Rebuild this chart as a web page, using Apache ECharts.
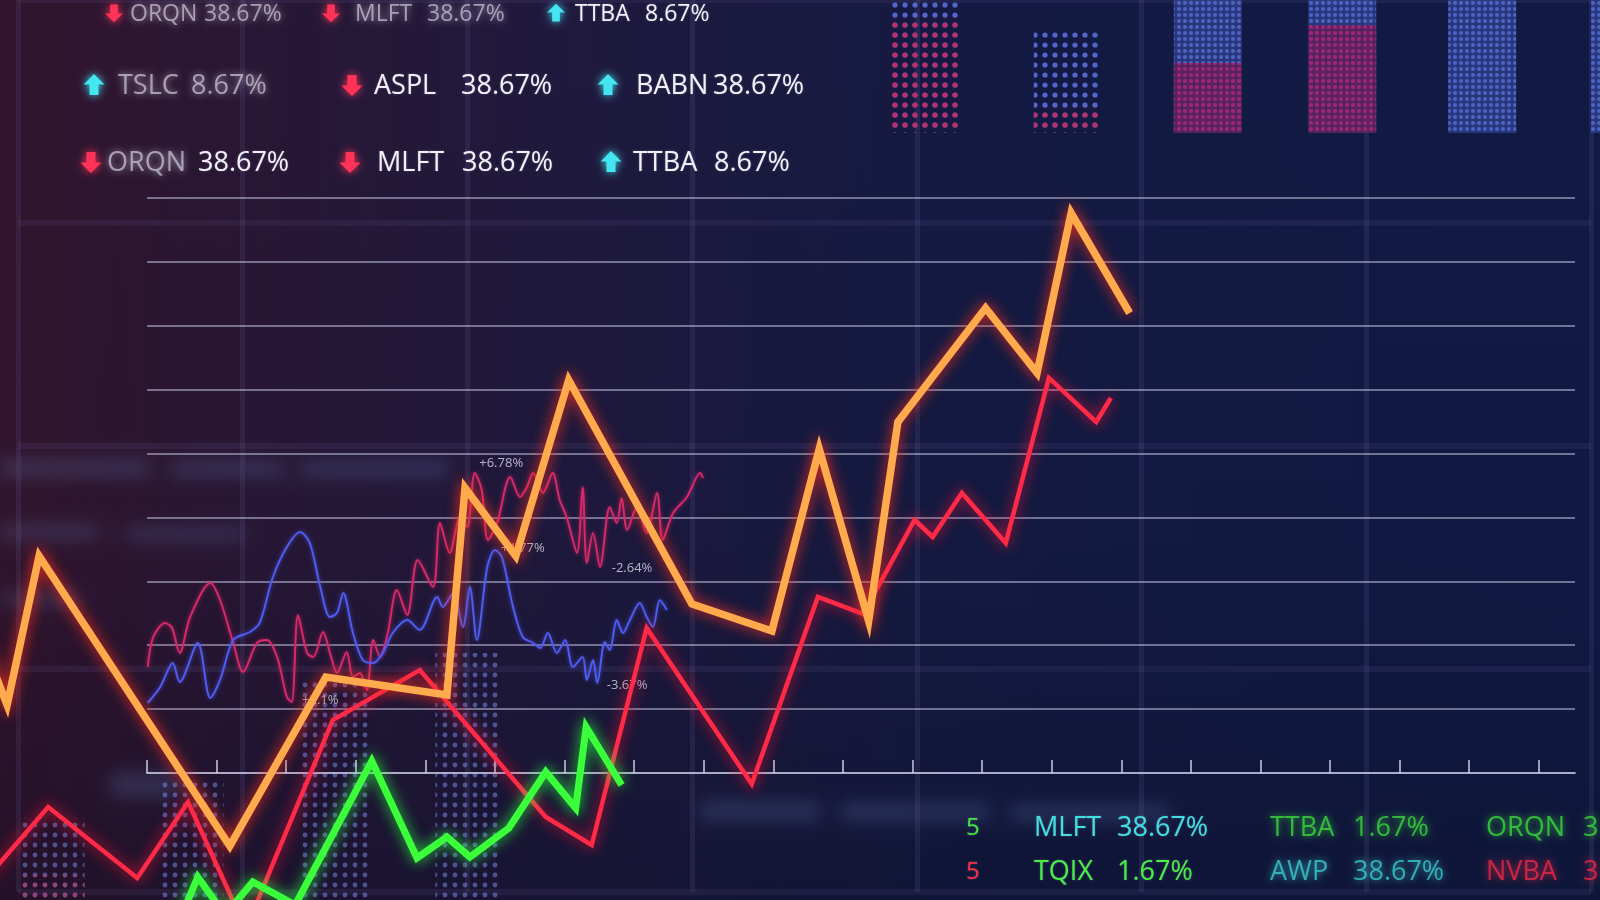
<!DOCTYPE html>
<html><head><meta charset="utf-8">
<script src="https://cdn.jsdelivr.net/npm/echarts@6/dist/echarts.min.js"></script>
<style>html,body{margin:0;padding:0;background:#151a3a;overflow:hidden}#c{width:1600px;height:900px;}</style>
</head><body><div id="c"></div>
<script>
// ---------- data ----------
const ticks = [0,1,2,3,4,5,6,7,8,9,10,11,12,13,14,15,16,17,18,19,20];

const orangeX = [-2.40,-2.01,-1.55,1.19,2.57,4.31,4.57,5.30,6.06,7.83,8.98,9.66,10.37,10.79,12.05,12.79,13.28,14.12];
const orangeY = [21.60,10.64,33.96,-11.43,15.03,12.21,44.61,33.96,61.51,26.45,22.23,50.71,23.79,54.94,72.78,62.61,87.65,72.00];

const redX = [-2.40,-1.42,-0.14,0.59,1.42,2.67,3.92,5.73,6.39,7.18,8.69,9.64,10.29,11.03,11.29,11.71,12.34,12.96,13.64,13.85];
const redY = [-17.69,-5.32,-16.43,-4.54,-24.42,8.30,16.12,-6.89,-11.27,22.70,-1.72,27.55,24.89,39.60,36.94,43.83,36.00,61.83,54.94,58.69];

const greenX = [0.50,0.73,1.12,1.52,2.13,3.23,3.88,4.31,4.64,5.20,5.73,6.16,6.31,6.82];
const greenY = [-22.23,-16.28,-22.23,-17.06,-20.66,1.88,-13.30,-10.02,-13.15,-8.61,0.16,-5.48,7.20,-1.88];

const pinkX = [0.01,0.09,0.26,0.36,0.47,0.62,0.91,1.05,1.24,1.38,1.58,1.72,1.87,2.01,2.08,2.17,2.30,2.39,2.53,2.63,2.73,2.87,2.96,3.06,3.16,3.25,3.35,3.46,3.59,3.74,3.89,4.11,4.21,4.35,4.50,4.60,4.71,4.81,4.90,5.03,5.22,5.36,5.46,5.55,5.69,5.83,5.93,6.03,6.18,6.26,6.32,6.41,6.51,6.65,6.75,6.82,6.90,7.04,7.18,7.33,7.41,7.56,7.76,7.95,7.99];
const pinkY = [16.59,21.29,23.48,22.70,18.78,24.42,29.74,27.08,20.35,15.81,20.35,20.82,18.16,11.90,11.11,24.73,18.78,18.16,22.07,18.78,15.65,18.94,15.03,15.65,12.99,20.82,18.16,21.91,28.64,24.73,33.34,29.11,39.13,34.43,40.07,38.50,46.96,44.30,36.47,39.13,46.33,43.20,44.76,46.96,43.83,46.96,42.73,40.07,34.43,44.76,32.87,37.56,32.24,41.63,39.13,43.04,38.03,41.63,37.56,43.83,36.47,40.70,43.20,46.96,46.17];

const blueX = [0.01,0.19,0.37,0.47,0.73,0.91,1.05,1.24,1.48,1.62,1.81,2.01,2.20,2.34,2.49,2.63,2.73,2.82,2.96,3.10,3.25,3.39,3.53,3.74,3.92,4.17,4.25,4.40,4.54,4.64,4.74,4.89,5.00,5.10,5.26,5.40,5.55,5.65,5.76,5.89,6.01,6.12,6.26,6.32,6.41,6.47,6.58,6.65,6.75,6.84,6.94,7.08,7.18,7.27,7.37,7.47];
const blueY = [10.96,13.46,17.22,14.24,20.35,11.74,14.56,20.82,22.07,23.48,30.68,35.37,37.72,36.00,29.11,24.42,25.04,28.17,21.91,17.69,17.22,18.78,21.91,23.95,22.38,27.55,25.98,28.17,22.85,29.11,20.82,32.24,34.90,33.81,25.98,21.29,20.35,19.57,21.91,18.78,20.82,16.59,18.16,14.56,17.69,14.09,20.50,19.25,23.95,21.91,23.95,26.61,24.42,22.85,27.08,25.51];

const tagLabels = ['+6.78%','+4.77%','-2.64%','-3.67%','+2.1%'];
const tagX = [5.09,5.40,6.97,6.90,2.49];
const tagY = [48.52,35.22,32.09,13.77,11.43];

const topBarPos = [0.5, 1.52, 2.52, 3.48, 4.48, 5.5];
const topBarRed = [87, 19.5, 52.6, 81, 0, 0];
const topBarBlue = [40, 59.4, 60, 40, 120, 120];

const lowBarPos = [0.37, 1.37, 2.41, 3.37];
const lowBarRed = [25, 0, 0, 0];
const lowBarBlue = [58, 122, 220, 247];

const tickerNames = [['ORQN','MLFT','TTBA'],['TSLC','ASPL','BABN'],['ORQN','MLFT','TTBA']];
const tickerValues = [['38.67%','38.67%','8.67%'],['8.67%','38.67%','38.67%'],['38.67%','38.67%','8.67%']];
const tickerDirs = [['down','down','up'],['up','down','up'],['down','down','up']];

const bottomNames = [['MLFT','TTBA','ORQN'],['TQIX','AWP','NVBA']];
const bottomValues = [['38.67%','1.67%','3'],['1.67%','38.67%','3']];

// ---------- helpers ----------
const zip = (xs, ys) => xs.map((x, i) => [x, ys[i]]);
function dots(step, r, color, bg) {
  const c = document.createElement('canvas');
  c.width = step; c.height = step;
  const g = c.getContext('2d');
  if (bg) { g.fillStyle = bg; g.fillRect(0, 0, step, step); }
  g.fillStyle = color;
  g.beginPath(); g.arc(step / 2, step / 2, r, 0, Math.PI * 2); g.fill();
  return c;
}
const pRedSharp = { image: dots(10, 2.6, '#c8285e'), repeat: 'repeat' };
const pBlueSharp = { image: dots(10, 2.6, '#6074e6'), repeat: 'repeat' };
const pRedSoft = { image: dots(6, 2.0, '#a8206a', 'rgba(110,24,80,0.75)'), repeat: 'repeat' };
const pBlueSoft = { image: dots(6, 2.0, '#5a70d8', 'rgba(55,75,165,0.7)'), repeat: 'repeat' };
const pLowBlue = { image: dots(10, 2.4, '#8092f4'), repeat: 'repeat' };
const pLowRed = { image: dots(10, 2.4, '#c03868'), repeat: 'repeat' };

const RED = '#ff3358', CYAN = '#44e6f2';
function arrow(cx, cy, dir, color, s) {
  const base = [[0,-11],[10.5,-0.5],[4.5,-0.5],[4.5,10],[-4.5,10],[-4.5,-0.5],[-10.5,-0.5]];
  const pts = base.map(p => [cx + p[0] * s, cy + (dir === 'up' ? p[1] : -p[1]) * s]);
  return { type: 'polygon', z: 100, silent: true, shape: { points: pts },
    style: { fill: color, shadowBlur: 8, shadowColor: color } };
}
function txt(x, y, text, color, size, blur) {
  return { type: 'text', x: x, y: y, z: 100, silent: true,
    style: { text: text, fill: color, font: size + 'px "Open Sans", sans-serif',
      textAlign: 'left', textVerticalAlign: 'middle',
      textShadowBlur: blur ? 7 : 2, textShadowColor: blur ? color : 'rgba(255,255,255,0.25)',
      opacity: blur ? 0.72 : 1 } };
}

// ---------- decorations ----------
const graphics = [];
graphics.push({ type: 'rect', z: -100, silent: true, shape: { x: 0, y: 0, width: 1600, height: 900 },
  style: { fill: new echarts.graphic.LinearGradient(0, 0, 1, 0, [
    { offset: 0, color: '#33142d' }, { offset: 0.12, color: '#2a1633' }, { offset: 0.35, color: '#1f193d' },
    { offset: 0.6, color: '#141a42' }, { offset: 1, color: '#101a44' }]) } });
graphics.push({ type: 'rect', z: -99, silent: true, shape: { x: 0, y: 0, width: 1600, height: 900 },
  style: { fill: new echarts.graphic.LinearGradient(0, 0, 0, 1, [
    { offset: 0, color: 'rgba(10,10,30,0)' }, { offset: 0.6, color: 'rgba(10,12,35,0.05)' },
    { offset: 1, color: 'rgba(8,12,34,0.35)' }]) } });
// out-of-focus text bands in the background: only the blurred shadow is visible
const OFF = 3000;
const blobs = [[0,458,150,20],[170,460,115,18],[300,460,150,18],[0,524,100,16],[125,527,120,14],
  [0,592,80,14],[110,772,70,26],[700,800,120,22],[840,802,150,20],[1010,804,160,18]];
blobs.forEach(b => graphics.push({ type: 'rect', z: -90, silent: true,
  shape: { x: b[0] - OFF, y: b[1], width: b[2], height: b[3], r: 6 },
  style: { fill: '#5a6a9a', shadowBlur: 16, shadowOffsetX: OFF, shadowColor: 'rgba(90,108,160,0.28)' } }));

const rowY = [13, 85, 162];
const rowSize = [23, 27, 27];
const arrowX = [[114,331,556],[94,352,608],[91,350,611]];
const nameX = [[130,355,575],[118,374,636],[107,377,633]];
const valX = [[204,427,645],[191,461,713],[198,462,714]];
const blurName = [[1,1,0],[1,0,0],[1,0,0]];
const blurVal = [[1,1,0],[1,0,0],[0,0,0]];
for (let r = 0; r < 3; r++) {
  for (let k = 0; k < 3; k++) {
    const dir = tickerDirs[r][k];
    graphics.push(arrow(arrowX[r][k], rowY[r], dir, dir === 'up' ? CYAN : RED, r === 0 ? 0.85 : 1));
    graphics.push(txt(nameX[r][k], rowY[r] + 1, tickerNames[r][k], blurName[r][k] ? '#cfc8dc' : '#f2f0fa', rowSize[r], blurName[r][k]));
    graphics.push(txt(valX[r][k], rowY[r] + 1, tickerValues[r][k], blurVal[r][k] ? '#cfc8dc' : '#f2f0fa', rowSize[r], blurVal[r][k]));
  }
}
const bRowY = [828, 872];
const bNameX = [1034, 1270, 1486];
const bValX = [1117, 1353, 1583];
const bColors = [['#3fe0e4', '#3ee83e', '#3ee83e'], ['#46f046', '#3fd8da', '#ff2a48']];
const bBlur = [[0, 1, 1], [0, 1, 1]];
for (let r = 0; r < 2; r++) {
  graphics.push(txt(966, bRowY[r], '5', r === 0 ? '#3ee83e' : '#ff2a48', 24, 0));
  for (let k = 0; k < 3; k++) {
    graphics.push(txt(bNameX[k], bRowY[r], bottomNames[r][k], bColors[r][k], 27, bBlur[r][k]));
    graphics.push(txt(bValX[k], bRowY[r], bottomValues[r][k], bColors[r][k], 27, bBlur[r][k]));
  }
}

// ---------- chart ----------
const chart = echarts.init(document.getElementById('c'), null, { renderer: 'canvas' });
const glowLine = (color, width, glow) => ({ color: color, width: width, join: 'miter', cap: 'butt',
  shadowBlur: 14, shadowColor: glow });
const hidden = { axisLine: { show: false }, axisTick: { show: false }, axisLabel: { show: false }, splitLine: { show: false } };
// data grid shares the visible axis scale (147px at 0, 69.6px per step) but starts at the canvas edge
const X_MIN_DATA = -147 / 69.6;
// stacked dot columns: the lower (red) part is drawn over a column of the full height
const topTotal = topBarRed.map((v, i) => v + topBarBlue[i]);
const lowTotal = lowBarRed.map((v, i) => v + lowBarBlue[i]);

chart.setOption({
  animation: false,
  graphic: graphics,
  grid: [
    { left: 147, right: 25, top: 198, bottom: 127 },
    { left: 18, right: 9, top: -7, bottom: 8 },
    { left: 855, top: 0, right: 0, height: 133 },
    { left: 0, top: 600, width: 556, height: 300 },
    { left: 0, right: 25, top: 198, bottom: 127 }
  ],
  xAxis: [
    { gridIndex: 0, type: 'value', min: 0, max: 20.52, z: 3,
      axisLine: { show: true, lineStyle: { color: 'rgba(210,210,236,0.6)', width: 2 } },
      axisTick: { show: true, inside: true, length: 13, customValues: ticks,
        lineStyle: { color: 'rgba(215,215,238,0.7)', width: 2 } },
      axisLabel: { show: false }, splitLine: { show: false } },
    { gridIndex: 1, type: 'value', min: 0, max: 7, interval: 1, z: 0,
      axisLine: { show: false }, axisTick: { show: false }, axisLabel: { show: false },
      splitLine: { show: true, lineStyle: { color: 'rgba(120,110,175,0.14)', width: 5 } } },
    Object.assign({ gridIndex: 2, type: 'value', min: 0, max: 745 / 140 }, hidden),
    Object.assign({ gridIndex: 3, type: 'value', min: 0, max: 4 }, hidden),
    Object.assign({ gridIndex: 4, type: 'value', min: X_MIN_DATA, max: 20.52 }, hidden)
  ],
  yAxis: [
    { gridIndex: 0, type: 'value', min: 0, max: 90, interval: 10, z: 1,
      axisLine: { show: false }, axisTick: { show: false }, axisLabel: { show: false },
      splitLine: { show: true, lineStyle: { color: 'rgba(205,205,235,0.5)', width: 2 } } },
    { gridIndex: 1, type: 'value', min: 0, max: 4, interval: 1, z: 0,
      axisLine: { show: false }, axisTick: { show: false }, axisLabel: { show: false },
      splitLine: { show: true, lineStyle: { color: 'rgba(120,110,175,0.12)', width: 6 } } },
    Object.assign({ gridIndex: 2, type: 'value', min: 0, max: 100 }, hidden),
    Object.assign({ gridIndex: 3, type: 'value', min: 0, max: 300 }, hidden),
    Object.assign({ gridIndex: 4, type: 'value', min: 0, max: 90 }, hidden)
  ],
  series: [
    { type: 'bar', xAxisIndex: 2, yAxisIndex: 2, barWidth: 68, barGap: '-100%', z: 1, silent: true,
      itemStyle: { opacity: 0.85 },
      data: topTotal.map((v, i) => ({ value: [topBarPos[i], v], itemStyle: { color: i < 2 ? pBlueSharp : pBlueSoft } })) },
    { type: 'bar', xAxisIndex: 2, yAxisIndex: 2, barWidth: 68, barGap: '-100%', z: 1, silent: true,
      itemStyle: { opacity: 0.9 },
      data: topBarRed.map((v, i) => ({ value: [topBarPos[i], v], itemStyle: { color: i < 2 ? pRedSharp : pRedSoft } })) },
    { type: 'bar', xAxisIndex: 3, yAxisIndex: 3, barWidth: 66, barGap: '-100%', z: 1, silent: true,
      itemStyle: { opacity: 0.5, color: pLowBlue }, data: zip(lowBarPos, lowTotal) },
    { type: 'bar', xAxisIndex: 3, yAxisIndex: 3, barWidth: 66, barGap: '-100%', z: 1, silent: true,
      itemStyle: { opacity: 0.55, color: pLowRed }, data: zip(lowBarPos, lowBarRed) },
    { type: 'line', name: 'pink', xAxisIndex: 4, yAxisIndex: 4, data: zip(pinkX, pinkY), showSymbol: false, smooth: 0.3, z: 2, silent: true,
      lineStyle: { color: '#d62a68', width: 2, shadowBlur: 4, shadowColor: 'rgba(220,40,110,0.7)' } },
    { type: 'line', name: 'blue', xAxisIndex: 4, yAxisIndex: 4, data: zip(blueX, blueY), showSymbol: false, smooth: 0.3, z: 2, silent: true,
      lineStyle: { color: '#4f5cf0', width: 2, shadowBlur: 4, shadowColor: 'rgba(80,90,240,0.7)' } },
    { type: 'scatter', name: 'tags', xAxisIndex: 4, yAxisIndex: 4,
      data: zip(tagX, tagY).map((p, i) => ({ value: p, name: tagLabels[i] })),
      symbolSize: 0, z: 3, silent: true,
      label: { show: true, position: 'inside', formatter: '{b}', color: '#dcdcec', fontSize: 13,
        fontFamily: 'Open Sans' } },
    { type: 'line', name: 'red', xAxisIndex: 4, yAxisIndex: 4, data: zip(redX, redY), showSymbol: false, clip: false, z: 4, silent: true,
      lineStyle: glowLine('#ff2a48', 4.5, 'rgba(255,20,50,0.9)') },
    { type: 'line', name: 'green', xAxisIndex: 4, yAxisIndex: 4, data: zip(greenX, greenY), showSymbol: false, clip: false, z: 5, silent: true,
      lineStyle: glowLine('#3cff3c', 7, 'rgba(40,255,60,0.9)') },
    { type: 'line', name: 'orange', xAxisIndex: 4, yAxisIndex: 4, data: zip(orangeX, orangeY), showSymbol: false, clip: false, z: 6, silent: true,
      lineStyle: glowLine('#ffab4d', 7.5, 'rgba(255,50,30,0.95)') }
  ]
});
</script>
</body></html>
